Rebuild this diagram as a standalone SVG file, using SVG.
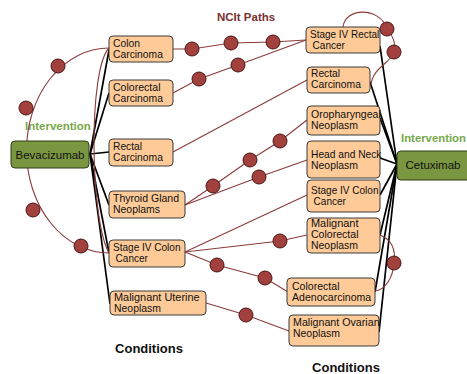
<svg xmlns="http://www.w3.org/2000/svg" width="467" height="374" viewBox="0 0 467 374">
<style>
.box{fill:#fdca98;stroke:#3a3a3a;stroke-width:1}
.drug{fill:#7a9640;stroke:#2e3a14;stroke-width:1}
.t{font-family:"Liberation Sans",Arial,sans-serif;font-size:10.5px;fill:#111}
.dt{font-family:"Liberation Sans",Arial,sans-serif;font-size:11.5px;fill:#111;text-anchor:middle}
.lab{font-family:"Liberation Sans",Arial,sans-serif;font-weight:bold;font-size:11.5px}
.cond{font-family:"Liberation Sans",Arial,sans-serif;font-weight:bold;font-size:13px;fill:#111;text-anchor:middle}
.bl{stroke:#000;stroke-width:1.7;fill:none}
.rl{stroke:#8c3b3b;stroke-width:1.1;fill:none}
.dot{fill:#a2403d;stroke:#4a1515;stroke-width:1}
</style>
<rect width="467" height="374" fill="#fff"/>
<text class="lab" x="217" y="21" fill="#7b2f2f">NCIt Paths</text>
<text class="lab" x="25" y="130" fill="#79a84a">Intervention</text>
<text class="lab" x="401" y="142" fill="#79a84a" textLength="65" lengthAdjust="spacingAndGlyphs">Intervention</text>
<text class="cond" x="149" y="353">Conditions</text>
<text class="cond" x="346" y="372">Conditions</text>
<g id="connectors">
<g id="black-links">
<line class="bl" x1="90" y1="154" x2="109" y2="50"/>
<line class="bl" x1="90" y1="154" x2="109" y2="93"/>
<line class="bl" x1="90" y1="154" x2="109" y2="152"/>
<line class="bl" x1="90" y1="154" x2="109" y2="205"/>
<line class="bl" x1="90" y1="154" x2="109" y2="253"/>
<line class="bl" x1="90" y1="154" x2="110" y2="304"/>
<line class="bl" x1="397" y1="164" x2="380" y2="46"/>
<line class="bl" x1="397" y1="164" x2="370" y2="82"/>
<line class="bl" x1="397" y1="164" x2="380" y2="118"/>
<line class="bl" x1="397" y1="164" x2="380" y2="158"/>
<line class="bl" x1="397" y1="164" x2="380" y2="195"/>
<line class="bl" x1="397" y1="164" x2="380" y2="235"/>
<line class="bl" x1="397" y1="164" x2="375" y2="292"/>
<line class="bl" x1="397" y1="164" x2="379" y2="332"/>
</g>
<g id="paths">
<polyline class="rl" points="173,49 192,49 231,43 273,42 306,40"/>
<polyline class="rl" points="173,93 199,79 238,65 306,40"/>
<line class="rl" x1="173" y1="152" x2="307" y2="80"/>
<polyline class="rl" points="185,205 213,186 250,160 280,141 307,120"/>
<polyline class="rl" points="185,205 259,177 307,160"/>
<line class="rl" x1="185" y1="252" x2="307" y2="195"/>
<polyline class="rl" points="185,252 280,241 307,235"/>
<polyline class="rl" points="185,252 217,265 265,278 288,292"/>
<polyline class="rl" points="206,303 246,315 289,331"/>
<path class="rl" d="M109,48 A82,102 0 1 0 109,253"/>
<path class="rl" d="M109,48 C88,70 90,220 109,253"/>
<path class="rl" d="M343,27 C345,8 378,6 387,28 C393,36 396,45 394,52 C392,62 372,68 371,85"/>
<path class="rl" d="M380,235 C392,240 396,250 394,263 C393,278 385,290 375,291"/>
</g>
<g id="path-steps">
<circle class="dot" cx="192" cy="49" r="7"/>
<circle class="dot" cx="231" cy="43" r="7"/>
<circle class="dot" cx="273" cy="42" r="7"/>
<circle class="dot" cx="199" cy="79" r="7"/>
<circle class="dot" cx="238" cy="65" r="7"/>
<circle class="dot" cx="58" cy="66" r="7"/>
<circle class="dot" cx="26" cy="108" r="7"/>
<circle class="dot" cx="33" cy="210" r="7"/>
<circle class="dot" cx="81" cy="246" r="7"/>
<circle class="dot" cx="387" cy="29" r="7"/>
<circle class="dot" cx="394" cy="52" r="7"/>
<circle class="dot" cx="213" cy="186" r="7"/>
<circle class="dot" cx="250" cy="160" r="7"/>
<circle class="dot" cx="280" cy="141" r="7"/>
<circle class="dot" cx="259" cy="177" r="7"/>
<circle class="dot" cx="280" cy="241" r="7"/>
<circle class="dot" cx="217" cy="265" r="7"/>
<circle class="dot" cx="265" cy="278" r="7"/>
<circle class="dot" cx="246" cy="315" r="7"/>
<circle class="dot" cx="394" cy="263" r="7"/>
</g>
</g>
<g id="bevacizumab"><rect class="drug" x="11" y="141" width="78" height="27" rx="4"/><text class="dt" x="50" y="159">Bevacizumab</text></g>
<g id="cetuximab"><rect class="drug" x="397" y="151" width="76" height="29" rx="4"/><text class="dt" x="433" y="169">Cetuximab</text></g>
<g id="colon-carcinoma"><rect class="box" x="109" y="36" width="64" height="26" rx="4"/><text class="t" x="113" y="47" textLength="27" lengthAdjust="spacingAndGlyphs">Colon</text><text class="t" x="113" y="58" textLength="50" lengthAdjust="spacingAndGlyphs">Carcinoma</text></g>
<g id="colorectal-carcinoma"><rect class="box" x="109" y="80" width="64" height="26" rx="4"/><text class="t" x="113" y="91" textLength="47.5" lengthAdjust="spacingAndGlyphs">Colorectal</text><text class="t" x="113" y="102" textLength="50" lengthAdjust="spacingAndGlyphs">Carcinoma</text></g>
<g id="rectal-carcinoma-l"><rect class="box" x="109" y="139" width="64" height="27" rx="4"/><text class="t" x="113" y="150" textLength="29" lengthAdjust="spacingAndGlyphs">Rectal</text><text class="t" x="113" y="161" textLength="50" lengthAdjust="spacingAndGlyphs">Carcinoma</text></g>
<g id="thyroid-gland-neoplams"><rect class="box" x="109" y="191" width="76" height="27" rx="4"/><text class="t" x="113" y="202" textLength="66" lengthAdjust="spacingAndGlyphs">Thyroid Gland</text><text class="t" x="113" y="213" textLength="47" lengthAdjust="spacingAndGlyphs">Neoplams</text></g>
<g id="stage-iv-colon-cancer-l"><rect class="box" x="109" y="240" width="76" height="27" rx="4"/><text class="t" x="113" y="251" textLength="67.5" lengthAdjust="spacingAndGlyphs">Stage IV Colon</text><text class="t" x="115.6" y="262" textLength="32.3" lengthAdjust="spacingAndGlyphs">Cancer</text></g>
<g id="malignant-uterine-neoplasm"><rect class="box" x="110" y="291" width="96" height="24" rx="4"/><text class="t" x="114" y="301" textLength="85.6" lengthAdjust="spacingAndGlyphs">Malignant Uterine</text><text class="t" x="114" y="312" textLength="47" lengthAdjust="spacingAndGlyphs">Neoplasm</text></g>
<g id="stage-iv-rectal-cancer"><rect class="box" x="306" y="27" width="74" height="26" rx="4"/><text class="t" x="310" y="38" textLength="69.3" lengthAdjust="spacingAndGlyphs">Stage IV Rectal</text><text class="t" x="312.6" y="49" textLength="32.3" lengthAdjust="spacingAndGlyphs">Cancer</text></g>
<g id="rectal-carcinoma-r"><rect class="box" x="307" y="67" width="63" height="26" rx="4"/><text class="t" x="311" y="77" textLength="29" lengthAdjust="spacingAndGlyphs">Rectal</text><text class="t" x="311" y="88" textLength="50" lengthAdjust="spacingAndGlyphs">Carcinoma</text></g>
<g id="oropharyngeal-neoplasm"><rect class="box" x="307" y="106" width="73" height="29" rx="4"/><text class="t" x="311" y="118" textLength="69.8" lengthAdjust="spacingAndGlyphs">Oropharyngeal</text><text class="t" x="311" y="129" textLength="47" lengthAdjust="spacingAndGlyphs">Neoplasm</text></g>
<g id="head-and-neck-neoplasm"><rect class="box" x="307" y="141" width="73" height="37" rx="4"/><text class="t" x="311" y="158" textLength="70.5" lengthAdjust="spacingAndGlyphs">Head and Neck</text><text class="t" x="311" y="169" textLength="47" lengthAdjust="spacingAndGlyphs">Neoplasm</text></g>
<g id="stage-iv-colon-cancer-r"><rect class="box" x="307" y="180" width="73" height="32" rx="4"/><text class="t" x="311" y="194" textLength="67.5" lengthAdjust="spacingAndGlyphs">Stage IV Colon</text><text class="t" x="313.6" y="205" textLength="32.3" lengthAdjust="spacingAndGlyphs">Cancer</text></g>
<g id="malignant-colorectal-neoplasm"><rect class="box" x="307" y="218" width="73" height="35" rx="4"/><text class="t" x="311" y="227" textLength="47.5" lengthAdjust="spacingAndGlyphs">Malignant</text><text class="t" x="311" y="238" textLength="47.5" lengthAdjust="spacingAndGlyphs">Colorectal</text><text class="t" x="311" y="249" textLength="47" lengthAdjust="spacingAndGlyphs">Neoplasm</text></g>
<g id="colorectal-adenocarcinoma"><rect class="box" x="287" y="278" width="88" height="28" rx="4"/><text class="t" x="292" y="290" textLength="47.5" lengthAdjust="spacingAndGlyphs">Colorectal</text><text class="t" x="292" y="301" textLength="79.2" lengthAdjust="spacingAndGlyphs">Adenocarcinoma</text></g>
<g id="malignant-ovarian-neoplasm"><rect class="box" x="289" y="315" width="90" height="31" rx="4"/><text class="t" x="293" y="326" textLength="86.6" lengthAdjust="spacingAndGlyphs">Malignant Ovarian</text><text class="t" x="293" y="337" textLength="47" lengthAdjust="spacingAndGlyphs">Neoplasm</text></g>
</svg>
